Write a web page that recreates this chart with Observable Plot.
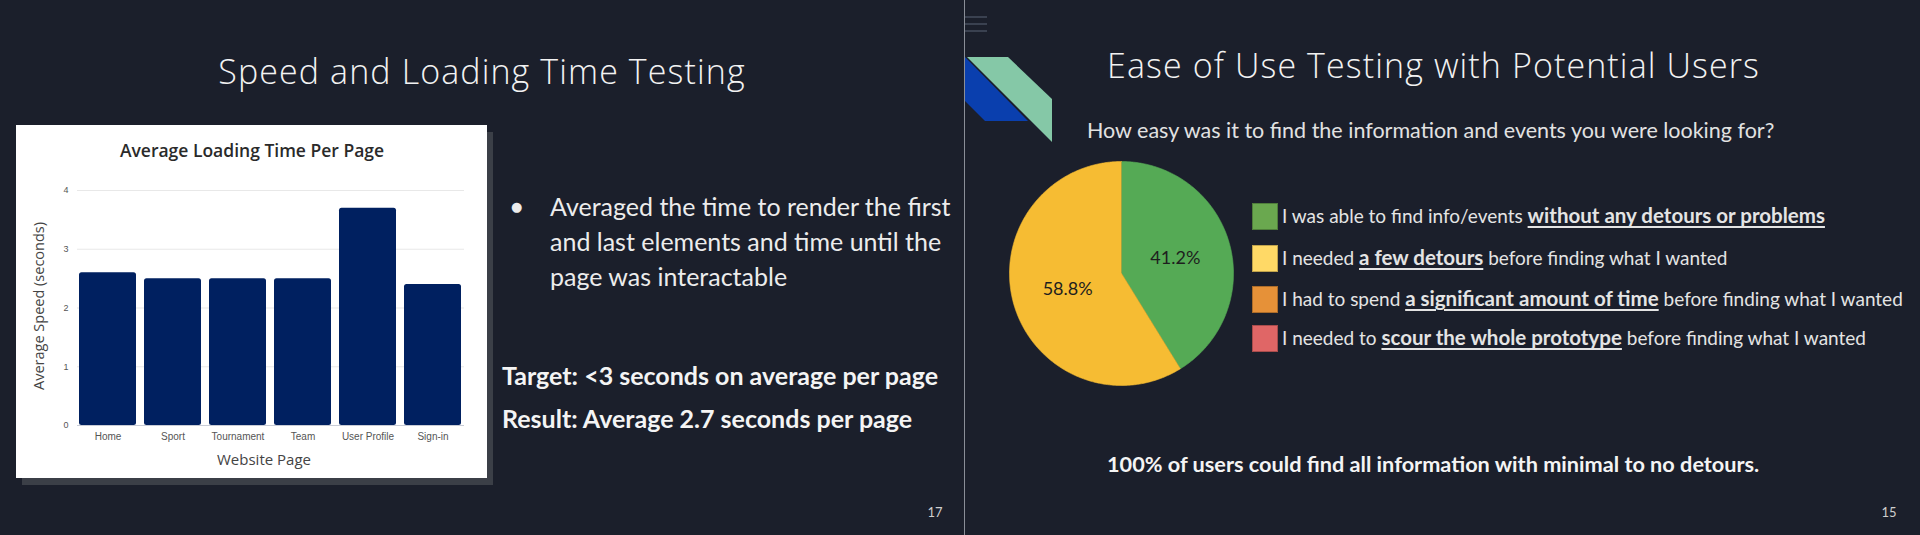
<!DOCTYPE html>
<html>
<head>
<meta charset="utf-8">
<script src="https://cdn.jsdelivr.net/npm/d3@7"></script>
<script src="https://cdn.jsdelivr.net/npm/@observablehq/plot@0.6"></script>
<style>
  html, body { margin: 0; padding: 0; background: #1b1f2b; }
  #page { position: relative; width: 1920px; height: 535px; background: #1b1f2b; overflow: hidden; font-family: Lato, "Open Sans", sans-serif; color: #ececec; }
  .abs { position: absolute; white-space: nowrap; }
  .title { font-family: "Open Sans", sans-serif; font-weight: 300; font-size: 34px; letter-spacing: 1.1px; color: #f2f2f2; line-height: 40px; }
  .body { font-size: 25px; line-height: 35px; color: #ececec; }
  .boldline { font-size: 25px; font-weight: 700; line-height: 36px; color: #f4f4f4; }
  .bold { font-weight: 700; }
  .leg { font-size: 19px; line-height: 26px; color: #e4e4e4; }
  .leg u { font-size: 20.5px; font-weight: 700; text-decoration-thickness: 1.5px; text-underline-offset: 3px; }
  .sq { position: absolute; width: 24px; height: 25px; border: 1px solid rgba(0,0,0,0.25); }
  .pnum { font-size: 13px; color: #cfcfcf; }
</style>
</head>
<body>
<div id="page">
  <!-- left slide -->
  <div class="abs title" style="left:482px; top:51px; transform:translateX(-50%);">Speed and Loading Time Testing</div>
  <div class="abs" style="left:16px; top:125px; width:471px; height:353px; background:#fff; box-shadow:6px 7px 0 #3b3f47;" id="barbox"></div>
  <div class="abs" style="left:511px; top:197px; font-size:13px; line-height:20px; font-family:'DejaVu Sans';">●</div>
  <div class="abs body" style="left:550px; top:189px;">Averaged the time to render the first<br>and last elements and time until the<br>page was interactable</div>
  <div class="abs boldline" style="left:502px; top:357px;">Target: &lt;3 seconds on average per page</div>
  <div class="abs boldline" style="left:502px; top:400px;">Result: Average 2.7 seconds per page</div>
  <div class="abs pnum" style="left:935px; top:504px; transform:translateX(-50%);">17</div>

  <!-- divider -->
  <div class="abs" style="left:964px; top:0; width:1px; height:535px; background:#8a8e97;"></div>

  <!-- right slide -->
  <svg class="abs" style="left:955px; top:0;" width="110" height="150">
    <rect x="10" y="16" width="22" height="2" fill="#3a4150"/>
    <rect x="10" y="23" width="22" height="2" fill="#3a4150"/>
    <rect x="10" y="30" width="22" height="2" fill="#3a4150"/>
    <polygon points="10,57 73,121 30,121 10,101" fill="#0a3fae"/>
    <polygon points="12,57 53,57 97,99 97,142" fill="#85c8a7"/>
  </svg>
  <div class="abs title" style="left:1107px; top:45px;">Ease of Use Testing with Potential Users</div>
  <div class="abs" style="left:1087px; top:117px; font-size:21.5px; line-height:26px; color:#e2e2e2;">How easy was it to find the information and events you were looking for?</div>
  <div id="piebox" class="abs" style="left:1001px; top:153px;"></div>
  <div id="legend"></div>
  <div class="abs bold" style="left:1107px; top:451px; font-size:21.7px; line-height:26px; color:#f4f4f4;">100% of users could find all information with minimal to no detours.</div>
  <div class="abs pnum" style="left:1889px; top:504px; transform:translateX(-50%);">15</div>
</div>
<script>
// ---- data: bar chart ----
const pages = ["Home", "Sport", "Tournament", "Team", "User Profile", "Sign-in"];
const speeds = [2.6, 2.5, 2.5, 2.5, 3.7, 2.4];
const yTicks = [0, 1, 2, 3, 4];
const barTitle = "Average Loading Time Per Page";
const xTitle = "Website Page";
const yTitle = "Average Speed (seconds)";

// ---- data: pie chart ----
const legendPrefix = ["I was able to find info/events ", "I needed ", "I had to spend ", "I needed to "];
const legendBold = ["without any detours or problems", "a few detours", "a significant amount of time", "scour the whole prototype"];
const legendSuffix = ["", " before finding what I wanted", " before finding what I wanted", " before finding what I wanted"];
const shares = [41.2, 58.8, 0, 0];
const pieColors = ["#55aa55", "#f6bc33", "#e69138", "#e06666"];
const legendColors = ["#6aa84f", "#ffd966", "#e69138", "#e06666"];

// ---- bar chart ----
const barData = pages.map((p, i) => ({page: p, speed: speeds[i]}));
const bar = Plot.plot({
  width: 471, height: 353,
  marginLeft: 61, marginRight: 23, marginTop: 65, marginBottom: 53,
  style: {background: "white", fontFamily: "'Liberation Sans', Arial, sans-serif", overflow: "visible"},
  x: {domain: pages, paddingInner: 0.12, paddingOuter: 0, label: null},
  y: {domain: [0, 4], label: null},
  marks: [
    Plot.gridY(yTicks.slice(1), {stroke: "#e8e8e8", strokeOpacity: 1, strokeWidth: 1.2}),
    Plot.barY(barData, {x: "page", y: "speed", fill: "#002060", rx: 2.5}),
    Plot.ruleY([0], {stroke: "#c8ccd6", strokeWidth: 1}),
    Plot.axisX({tickSize: 0, tickPadding: 7, fontSize: 10, color: "#555", label: null}),
    Plot.axisY({ticks: yTicks, tickFormat: "d", tickSize: 0, tickPadding: 9, fontSize: 9, color: "#555", label: null}),
    Plot.text([barTitle], {text: d => d, frameAnchor: "top", lineAnchor: "middle", textAnchor: "middle", dx: -19, dy: -39, fontSize: 17.5, fontWeight: 600, fill: "#2a2a2a", fontFamily: "'Open Sans', sans-serif", style: {letterSpacing: "0.5px"}}),
    Plot.text([xTitle], {text: d => d, frameAnchor: "bottom", lineAnchor: "middle", textAnchor: "middle", dx: -7, dy: 35, fontSize: 15, fill: "#444", fontFamily: "'Open Sans', sans-serif"}),
    Plot.text([yTitle], {text: d => d, frameAnchor: "left", lineAnchor: "middle", textAnchor: "middle", rotate: -90, dx: -38, dy: -2, fontSize: 14.5, fill: "#444", fontFamily: "'Open Sans', sans-serif", style: {letterSpacing: "0.3px"}})
  ]
});
document.getElementById("barbox").appendChild(bar);

// ---- pie chart ----
const arcs = d3.pie().sort(null).value(d => d)(shares);
const piePts = [];
arcs.forEach((a, i) => {
  if (a.endAngle - a.startAngle <= 0) return;
  piePts.push({k: i, x: 0, y: 0, c: pieColors[i]});
  const n = Math.max(2, Math.ceil((a.endAngle - a.startAngle) / 0.01));
  for (let j = 0; j <= n; j++) {
    const t = a.startAngle + (a.endAngle - a.startAngle) * j / n;
    piePts.push({k: i, x: Math.sin(t), y: Math.cos(t), c: pieColors[i]});
  }
});
const pieLabels = arcs.filter(a => a.value > 0).map(a => {
  const m = (a.startAngle + a.endAngle) / 2;
  return {x: 0.5 * Math.sin(m), y: 0.5 * Math.cos(m), t: a.value.toFixed(1) + "%"};
});
const pie = Plot.plot({
  width: 240, height: 240, margin: 8,
  style: {background: "transparent", overflow: "visible"},
  x: {domain: [-1, 1], axis: null},
  y: {domain: [-1, 1], axis: null},
  marks: [
    Plot.line(piePts, {x: "x", y: "y", z: "k", fill: "c", stroke: "c", strokeWidth: 0.6}),
    Plot.text(pieLabels, {x: "x", y: "y", text: "t", fontSize: 18, fill: "#1e1e1e", fontFamily: "Lato, sans-serif"})
  ]
});
document.getElementById("piebox").appendChild(pie);

// ---- legend ----
const legendY = [216, 258, 299, 338];
const leg = document.getElementById("legend");
legendPrefix.forEach((p, i) => {
  const sq = document.createElement("div");
  sq.className = "sq";
  sq.style.left = "1252px";
  sq.style.top = (legendY[i] - 13) + "px";
  sq.style.background = legendColors[i];
  leg.appendChild(sq);
  const tx = document.createElement("div");
  tx.className = "abs leg";
  tx.style.left = "1282px";
  tx.style.top = (legendY[i] - 14) + "px";
  tx.innerHTML = p + "<u>" + legendBold[i] + "</u>" + legendSuffix[i];
  leg.appendChild(tx);
});
</script>
</body>
</html>
